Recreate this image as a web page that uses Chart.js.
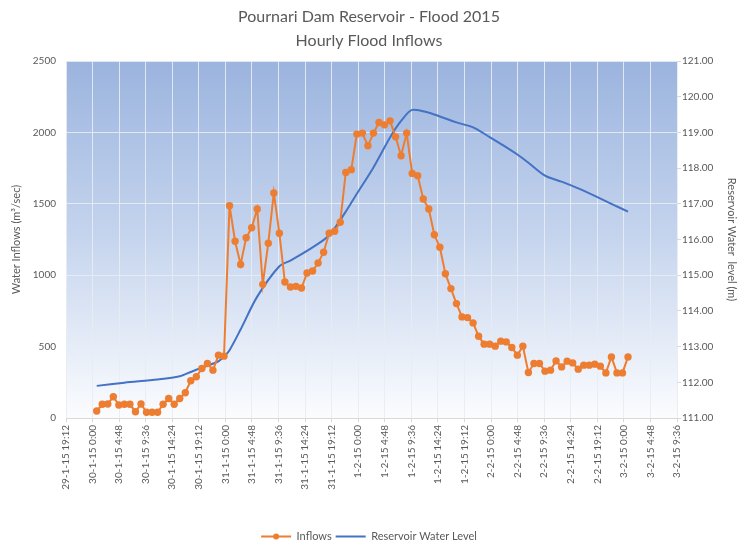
<!DOCTYPE html>
<html lang="en">
  <head>
    <meta charset="UTF-8" />
    <title>Pournari Dam Reservoir - Flood 2015</title>
    <script src="https://cdn.jsdelivr.net/npm/chart.js"></script>
    <style>
      html, body { margin: 0; padding: 0; background: #ffffff; }
      #floodChart { display: block; }
    </style>
  </head>
  <body>
    <canvas id="floodChart" width="738" height="542"></canvas>

    <script>
      // Tick labels of the time axis (every 4.8 hours, 29-1-15 19:12 .. 3-2-15 9:36)
      const tickLabels = [
        "29-1-15 19:12",
        "30-1-15 0:00", "30-1-15 4:48", "30-1-15 9:36", "30-1-15 14:24", "30-1-15 19:12",
        "31-1-15 0:00", "31-1-15 4:48", "31-1-15 9:36", "31-1-15 14:24", "31-1-15 19:12",
        "1-2-15 0:00", "1-2-15 4:48", "1-2-15 9:36", "1-2-15 14:24", "1-2-15 19:12",
        "2-2-15 0:00", "2-2-15 4:48", "2-2-15 9:36", "2-2-15 14:24", "2-2-15 19:12",
        "3-2-15 0:00", "3-2-15 4:48", "3-2-15 9:36",
      ];
      const axisStartHour = -4.8; // 29-1-15 19:12, hours after 30-1-15 0:00
      const tickStepHours = 4.8;

      // Hourly inflows (m3/sec), first reading 0.75 h after 30-1-15 0:00
      const firstReadingHour = 0.75;
      const inflows = [
        49, 96, 98, 149, 91, 96, 96, 44, 98, 40,
        40, 40, 96, 137, 96, 137, 177, 261, 289, 347,
        382, 335, 440, 433, 1487, 1238, 1075, 1262, 1332, 1464,
        936, 1224, 1576, 1294, 952, 917, 922, 910, 1015, 1029,
        1085, 1161, 1294, 1308, 1371, 1720, 1739, 1988, 1995, 1906,
        1995, 2069, 2053, 2081, 1969, 1837, 1995, 1713, 1697, 1534,
        1464, 1283, 1196, 1010, 906, 801, 708, 703, 666, 573,
        517, 517, 503, 538, 533, 494, 440, 503, 319, 382,
        382, 328, 335, 400, 358, 398, 386, 342, 370, 370,
        377, 363, 316, 428, 316, 316, 428,
      ];

      // Reservoir water level (m), read at these hourly reading numbers
      const levelReadings = [
        0, 5, 11, 15, 17, 19, 22, 23, 24, 26, 29, 33, 35, 39, 42, 45, 47, 50,
        53, 55, 57, 60, 63, 65, 68, 71, 73, 76, 78, 81, 84, 87, 90, 93, 96,
      ];
      const levels = [
        111.9, 111.99, 112.08, 112.17, 112.29, 112.41, 112.59, 112.72, 112.9, 113.48,
        114.4, 115.25, 115.41, 115.78, 116.12, 116.78, 117.28, 118.02, 118.86, 119.32,
        119.63, 119.55, 119.39, 119.28, 119.14, 118.87, 118.68, 118.38, 118.15, 117.79,
        117.62, 117.43, 117.22, 117.0, 116.78,
      ];

      const textColor = "#595959";
      const gridColor = "rgba(232, 236, 243, 0.9)";

      // Excel style gradient fill behind the plot area
      const plotBackground = {
        id: "plotBackground",
        beforeDraw(chart) {
          const { ctx, chartArea: a } = chart;
          const g = ctx.createLinearGradient(0, a.top, 0, a.bottom);
          g.addColorStop(0, "#9bb4de");
          g.addColorStop(0.5, "#c6d5ee");
          g.addColorStop(1, "#fbfcfe");
          ctx.save();
          ctx.fillStyle = g;
          ctx.fillRect(a.left, a.top, a.right - a.left, a.bottom - a.top);
          ctx.restore();
        },
      };

      // marker dot on the "Inflows" legend line
      const legendMarker = {
        id: "legendMarker",
        afterDraw(chart) {
          const box = chart.legend.legendHitBoxes[0];
          if (!box) return;
          const ctx = chart.ctx;
          ctx.save();
          ctx.fillStyle = "#ED7D31";
          ctx.beginPath();
          ctx.arc(box.left + 15, box.top + box.height / 2, 3, 0, Math.PI * 2);
          ctx.fill();
          ctx.restore();
        },
      };

      const ctx = document.getElementById("floodChart").getContext("2d");
      const floodChart = new Chart(ctx, {
        type: "line",
        data: {
          datasets: [
            {
              label: "Inflows",
              data: inflows.map((v, i) => ({ x: firstReadingHour + i, y: v })),
              yAxisID: "y",
              borderColor: "#ED7D31",
              backgroundColor: "#ED7D31",
              borderWidth: 2,
              pointRadius: 3.7,
              pointBorderWidth: 0,
              pointBackgroundColor: "#ED7D31",
              tension: 0,
            },
            {
              label: "Reservoir Water Level",
              data: levelReadings.map((r, i) => ({ x: firstReadingHour + r, y: levels[i] })),
              yAxisID: "y1",
              borderColor: "#4472C4",
              backgroundColor: "#4472C4",
              borderWidth: 2,
              pointRadius: 0,
              tension: 0.3,
            },
          ],
        },
        options: {
          responsive: false,
          animation: false,
          // legend reserves 10px below its row; pull it down to the canvas edge
          layout: { padding: { left: 0, right: 0, top: 0, bottom: -10 } },
          plugins: {
            title: {
              display: true,
              text: ["Pournari Dam Reservoir - Flood 2015", "Hourly Flood Inflows"],
              color: textColor,
              font: { family: "Lato", size: 16, weight: "normal", lineHeight: 1.5 },
              padding: { top: 5, bottom: 8 },
            },
            legend: {
              position: "bottom",
              labels: {
                color: textColor,
                font: { family: "Lato", size: 11 },
                usePointStyle: true,
                pointStyleWidth: 30,
                padding: 4,
                generateLabels: (chart) =>
                  chart.data.datasets.map((ds, i) => ({
                    text: ds.label,
                    fillStyle: ds.borderColor,
                    strokeStyle: ds.borderColor,
                    lineWidth: 2,
                    pointStyle: "line",
                    fontColor: textColor,
                    datasetIndex: i,
                  })),
              },
            },
            tooltip: { enabled: false },
          },
          scales: {
            x: {
              type: "linear",
              min: axisStartHour,
              max: axisStartHour + tickStepHours * (tickLabels.length - 1),
              afterBuildTicks: (scale) => {
                scale.ticks = tickLabels.map((t, i) => ({ value: axisStartHour + tickStepHours * i }));
              },
              ticks: {
                color: textColor,
                font: { family: "Lato", size: 10 },
                minRotation: 90,
                maxRotation: 90,
                autoSkip: false,
                callback: (v, i) => tickLabels[i],
              },
              grid: { color: gridColor, drawTicks: true, tickLength: 4, tickColor: "#d9d9d9" },
              border: { color: "#d9d9d9" },
              afterFit: (scale) => { scale.height = 109; },
            },
            y: {
              position: "left",
              min: 0,
              max: 2500,
              ticks: {
                stepSize: 500,
                color: textColor,
                font: { family: "Lato", size: 10 },
                padding: 10,
                callback: (v) => String(v),
              },
              grid: { color: gridColor, drawTicks: false },
              border: { display: false },
              title: {
                display: true,
                text: "Water Inflows (m³/sec)",
                color: textColor,
                font: { family: "Lato", size: 11 },
                padding: { top: 10, bottom: 0 },
              },
              afterFit: (scale) => { scale.width = 66; },
            },
            y1: {
              position: "right",
              min: 111,
              max: 121,
              ticks: {
                stepSize: 1,
                color: textColor,
                font: { family: "Lato", size: 10 },
                padding: 1,
                callback: (v) => v.toFixed(2),
              },
              grid: { drawOnChartArea: false, tickLength: 4, tickColor: "#d9d9d9" },
              border: { display: false },
              title: {
                display: true,
                text: "Reservoir Water  level (m)",
                color: textColor,
                font: { family: "Lato", size: 11 },
                padding: { top: 0, bottom: 0 },
              },
              afterFit: (scale) => { scale.width = 61; },
            },
          },
        },
        plugins: [plotBackground, legendMarker],
      });
    </script>
  </body>
</html>
